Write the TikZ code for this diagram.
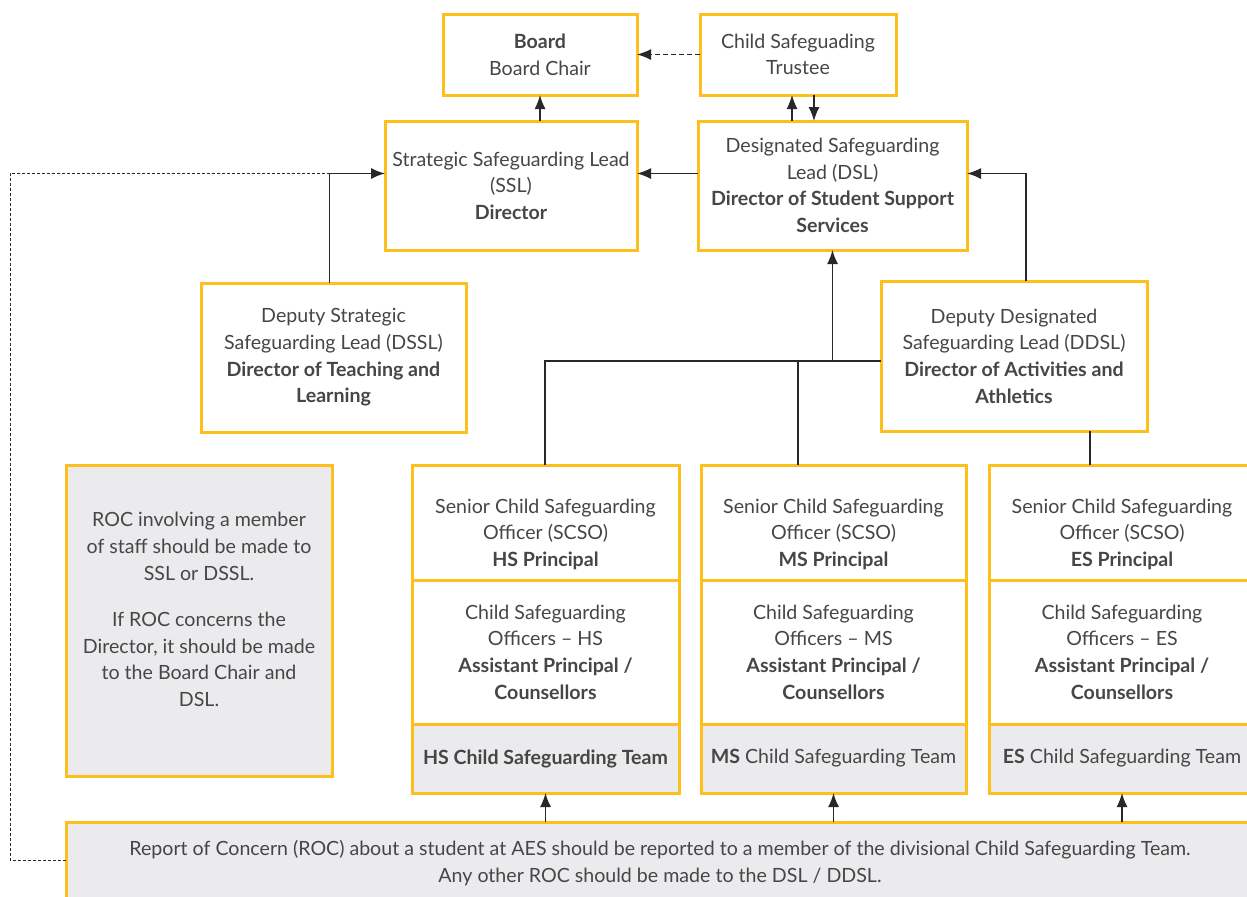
\documentclass[tikz,border=0pt]{standalone}
\usepackage{fontspec}
\setmainfont{Lato}
\usepackage{tikz}
\usetikzlibrary{arrows.meta,positioning}
\definecolor{aesGold}{RGB}{252,191,30}
\definecolor{aesText}{RGB}{70,70,70}
\definecolor{aesLine}{RGB}{40,40,40}
\definecolor{aesGray}{RGB}{235,235,238}

\begin{document}
\begin{tikzpicture}[x=0.5pt,y=-0.5pt,
  box/.style={draw=aesGold, line width=1.5pt, fill=white, text=aesText,
    align=center, inner sep=0pt, outer sep=0pt,
    font=\fontsize{9.8}{13.3}\selectfont},
  greybox/.style={box, fill=aesGray},
  link/.style={aesLine, line width=0.7pt, -{Latex[length=7pt,width=5.5pt]}},
  plain/.style={aesLine, line width=0.7pt}]
\useasboundingbox (0,0) rectangle (1247,896);
\clip (0,0) rectangle (1247,896);

% top rows
\node[box, minimum width=97pt, minimum height=40.5pt] (board) at (540,54.5)
  {\textbf{Board}\\Board Chair};
\node[box, minimum width=98pt, minimum height=40.5pt] (trustee) at (798,54.5)
  {Child Safeguading\\Trustee};
\node[box, minimum width=126pt, minimum height=64.5pt] (ssl) at (511,185.5)
  {Strategic Safeguarding Lead\\(SSL)\\\textbf{Director}};
\node[box, minimum width=134.5pt, minimum height=64.5pt] (dsl) at (832.5,185.5)
  {Designated Safeguarding\\Lead (DSL)\\\textbf{Director of Student Support}\\\textbf{Services}};
\node[box, minimum width=132.5pt, minimum height=74.5pt] (dssl) at (333.5,357.5)
  {Deputy Strategic\\Safeguarding Lead (DSSL)\\\textbf{Director of Teaching and}\\\textbf{Learning}};
\node[box, minimum width=133pt, minimum height=75pt] (ddsl) at (1014,356)
  {Deputy Designated\\Safeguarding Lead (DDSL)\\\textbf{Director of Activities and}\\\textbf{Athletics}};

% note
\node[greybox, minimum width=133pt, minimum height=155.5pt] (note) at (199,620.5)
  {ROC involving a member\\of staff should be made to\\SSL or DSSL.\\[10pt]
   If ROC concerns the\\Director, it should be made\\to the Board Chair and\\DSL.\rule[-11pt]{0pt}{11pt}};

% divisions
\node[box, minimum width=133.5pt, minimum height=57.5pt] (hs) at (545.5,522.5)
  {\rule{0pt}{19pt}Senior Child Safeguarding\\Officer (SCSO)\\\textbf{HS Principal}};
\node[box, minimum width=133.5pt, minimum height=72pt, below=0pt of hs] (hsofc)
  {Child Safeguarding\\Officers -- HS\\\textbf{Assistant Principal /}\\\textbf{Counsellors}};
\node[greybox, minimum width=133.5pt, minimum height=34.5pt, below=0pt of hsofc] (hsteam)
  {\textbf{HS Child Safeguarding Team}};

\node[box, minimum width=132.5pt, minimum height=57.5pt] (ms) at (833.5,522.5)
  {\rule{0pt}{19pt}Senior Child Safeguarding\\Officer (SCSO)\\\textbf{MS Principal}};
\node[box, minimum width=132.5pt, minimum height=72pt, below=0pt of ms] (msofc)
  {Child Safeguarding\\Officers -- MS\\\textbf{Assistant Principal /}\\\textbf{Counsellors}};
\node[greybox, minimum width=132.5pt, minimum height=34.5pt, below=0pt of msofc] (msteam)
  {\textbf{MS} Child Safeguarding Team};

\node[box, minimum width=133pt, minimum height=57.5pt] (es) at (1122,522.5)
  {\rule{0pt}{19pt}Senior Child Safeguarding\\Officer (SCSO)\\\textbf{ES Principal}};
\node[box, minimum width=133pt, minimum height=72pt, below=0pt of es] (esofc)
  {Child Safeguarding\\Officers -- ES\\\textbf{Assistant Principal /}\\\textbf{Counsellors}};
\node[greybox, minimum width=133pt, minimum height=34.5pt, below=0pt of esofc] (esteam)
  {\textbf{ES} Child Safeguarding Team};

% report box
\node[greybox, minimum width=594pt, minimum height=41pt] (roc) at (660,863)
  {Report of Concern (ROC) about a student at AES should be reported to a member of the divisional Child Safeguarding Team.\\
   Any other ROC should be made to the DSL / DDSL.};

% connectors
\draw[link, dash pattern=on 2.5pt off 1.5pt] (trustee.west) -- (board.east);
\draw[link] (ssl.north -| board.south) -- (board.south);
\draw[link] ([xshift=-3pt]trustee.south |- dsl.north) -- ([xshift=-3pt]trustee.south);
\draw[link] ([xshift=8pt]trustee.south) -- ([xshift=8pt]trustee.south |- dsl.north);
\draw[link] ([yshift=6pt]dsl.west) -- ([yshift=6pt]ssl.east);
\draw[link] ([xshift=-2pt]dssl.north) |- ([yshift=6pt]ssl.west);
\draw[link] ([xshift=6pt]ddsl.north) |- ([yshift=6pt]dsl.east);

\coordinate (bend) at (10,173);
\draw[aesLine, line width=0.5pt, dash pattern=on 1.5pt off 1pt] ([yshift=1.5pt]roc.west) -| (bend) -- (bend -| dssl.north);

\coordinate (bus) at (545,361);
\draw[plain] ([yshift=-2.5pt]ddsl.west) -- (bus) -- (bus |- hs.north);
\draw[link] (dsl.south |- bus) -- (dsl.south);
\draw[plain] ([xshift=-17.75pt]ms.north |- bus) -- ([xshift=-17.75pt]ms.north);
\draw[aesLine, line width=1.4pt] ([xshift=38pt]ddsl.south) -- ([xshift=38pt]ddsl.south |- es.north);

\draw[link] (roc.north -| hsteam.south) -- (hsteam.south);
\draw[link] (roc.north -| msteam.south) -- (msteam.south);
\draw[link] (roc.north -| esteam.south) -- (esteam.south);
\end{tikzpicture}
\end{document}
